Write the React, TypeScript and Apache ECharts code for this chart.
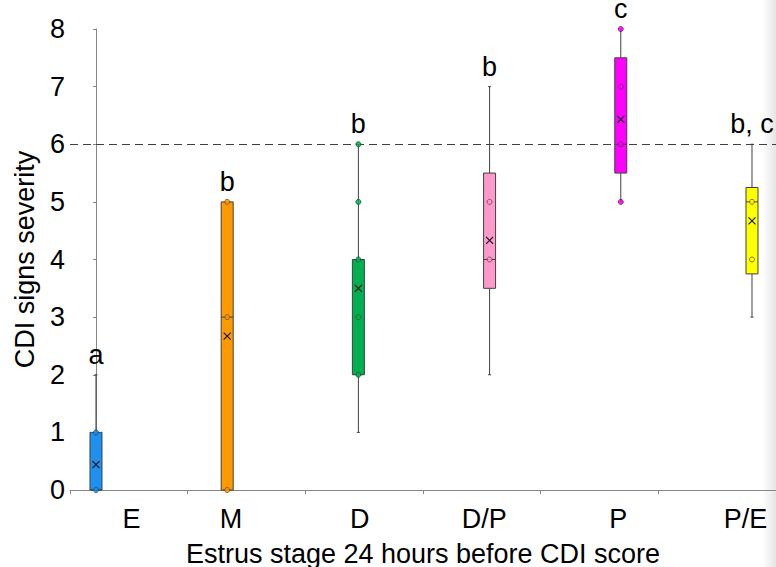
import React, { useEffect, useRef } from "react";
import * as echarts from "echarts";

// ---- data ----
const categories = ["E", "M", "D", "D/P", "P", "P/E"];
const minValues = [0, 0, 1, 2, 5, 3];
const q1Values = [0, 0, 2, 3.5, 5.5, 3.75];
const medianValues: (number | null)[] = [0, 3, null, 4, 6, 5];
const q3Values = [1, 5, 4, 5.5, 7.5, 5.25];
const maxValues = [2, 5, 6, 7, 8, 6];
const meanValues = [0.44, 2.67, 3.5, 4.33, 6.43, 4.67];
const pointValues = [
  [0, 1],
  [0, 3, 5],
  [2, 3, 4, 5, 6],
  [4, 5],
  [5, 6, 7, 8],
  [4, 5],
];
const groupLetters = ["a", "b", "b", "b", "c", "b, c"];
const thresholdValue = 6;
const yMin = 0;
const yMax = 8;
const yInterval = 1;

// ---- styling / layout ----
const boxColors = ["#1E90F0", "#FF9900", "#00B050", "#FF99CC", "#FF00FF", "#FFFF00"];
const dotStroke = ["#0A4F8A", "#7A4A00", "#005A28", "#7A3A5A", "#7A007A", "#5A5A00"];
const labelPositions = [0.27, 1.03, 2.01, 2.96, 3.98, 4.95];
const FONT = "'Liberation Sans', Arial, Helvetica, sans-serif";
const FS = 27;
const LINE = "#404040";

export default function App() {
  const ref = useRef<HTMLDivElement>(null);

  useEffect(() => {
    if (!ref.current) return;
    const chart = echarts.init(ref.current, undefined, { renderer: "svg" });

    const boxData = categories.map((_, i) => [i, minValues[i], maxValues[i]]);
    const dotData: any[] = [];
    pointValues.forEach((vals, i) =>
      vals.forEach((v) =>
        dotData.push({
          value: [i, v],
          itemStyle: { color: boxColors[i], borderColor: dotStroke[i], borderWidth: 1 },
        })
      )
    );

    const option: any = {
      animation: false,
      backgroundColor: "#ffffff",
      textStyle: { fontFamily: FONT },
      grid: { left: 70, right: 0, top: 29, bottom: 77, containLabel: false, outerBoundsMode: "none" },
      xAxis: [
        {
          type: "category",
          data: categories,
          boundaryGap: true,
          axisLine: { show: true, lineStyle: { color: "#868686", width: 1 } },
          axisTick: { show: true, length: 4, lineStyle: { color: "#868686" } },
          axisLabel: { show: false },
          splitLine: { show: false },
        },
        {
          type: "value",
          min: -0.198,
          max: 5.183,
          position: "bottom",
          axisLine: { show: false },
          axisTick: { show: false },
          splitLine: { show: false },
          axisLabel: {
            customValues: labelPositions,
            formatter: (v: number) => categories[Math.round(v)] ?? "",
            fontSize: FS,
            color: "#000",
            fontFamily: FONT,
            margin: 15,
          },
          name: "Estrus stage 24 hours before CDI score",
          nameLocation: "middle",
          nameGap: 50,
          nameTextStyle: { fontSize: FS, color: "#000", fontFamily: FONT },
        },
      ],
      yAxis: {
        type: "value",
        min: yMin,
        max: yMax,
        interval: yInterval,
        axisLine: { show: true, lineStyle: { color: "#868686", width: 1 } },
        axisTick: { show: true, length: 3, lineStyle: { color: "#868686" } },
        splitLine: { show: false },
        axisLabel: { fontSize: FS, color: "#000", fontFamily: FONT, margin: 5 },
        name: "CDI signs severity",
        nameLocation: "middle",
        nameGap: 32,
        nameTextStyle: { fontSize: FS, color: "#000", fontFamily: FONT },
      },
      series: [
        {
          type: "custom",
          xAxisIndex: 1,
          yAxisIndex: 0,
          data: boxData,
          encode: { x: 0, y: [1, 2] },
          z: 3,
          clip: false,
          renderItem: (params: any, api: any) => {
            const i = params.dataIndex;
            const x = api.coord([i, 0])[0];
            const y = (v: number) => api.coord([i, v])[1];
            const half = 6;
            const stroke = { stroke: LINE, lineWidth: 1 };
            const children: any[] = [];
            if (maxValues[i] > q3Values[i]) {
              children.push({ type: "line", shape: { x1: x, y1: y(q3Values[i]), x2: x, y2: y(maxValues[i]) }, style: stroke });
              children.push({ type: "line", shape: { x1: x - 1.5, y1: y(maxValues[i]), x2: x + 1.5, y2: y(maxValues[i]) }, style: stroke });
            }
            if (minValues[i] < q1Values[i]) {
              children.push({ type: "line", shape: { x1: x, y1: y(q1Values[i]), x2: x, y2: y(minValues[i]) }, style: stroke });
              children.push({ type: "line", shape: { x1: x - 1.5, y1: y(minValues[i]), x2: x + 1.5, y2: y(minValues[i]) }, style: stroke });
            }
            children.push({
              type: "rect",
              shape: { x: x - half, y: y(q3Values[i]), width: half * 2, height: y(q1Values[i]) - y(q3Values[i]) },
              style: { fill: boxColors[i], stroke: LINE, lineWidth: 1 },
            });
            const med = medianValues[i];
            if (med !== null) {
              children.push({ type: "line", shape: { x1: x - half, y1: y(med), x2: x + half, y2: y(med) }, style: stroke });
            }
            const my = y(meanValues[i]);
            const m = 3.5;
            children.push({ type: "line", shape: { x1: x - m, y1: my - m, x2: x + m, y2: my + m }, style: { stroke: "#111", lineWidth: 1.1 } });
            children.push({ type: "line", shape: { x1: x - m, y1: my + m, x2: x + m, y2: my - m }, style: { stroke: "#111", lineWidth: 1.1 } });
            children.push({
              type: "text",
              x: x,
              y: y(maxValues[i]) - 20,
              style: {
                text: groupLetters[i],
                fill: "#000",
                font: `${FS}px ${FONT}`,
                align: "center",
                verticalAlign: "middle",
              },
            });
            return { type: "group", children };
          },
          markLine: {
            silent: true,
            symbol: ["none", "none"],
            label: { show: false },
            lineStyle: { type: [8, 5], color: LINE, width: 1.2 },
            data: [{ yAxis: thresholdValue }],
          },
        },
        {
          type: "scatter",
          xAxisIndex: 1,
          yAxisIndex: 0,
          symbol: "circle",
          symbolSize: 5,
          data: dotData,
          z: 5,
          clip: false,
        },
      ],
      graphic: [
        {
          type: "rect",
          right: 0,
          top: 0,
          shape: { width: 14, height: 567 },
          silent: true,
          style: {
            fill: new echarts.graphic.LinearGradient(0, 0, 1, 0, [
              { offset: 0, color: "rgba(0,0,0,0)" },
              { offset: 1, color: "rgba(0,0,0,0.10)" },
            ]),
          },
        },
      ],
    };

    chart.setOption(option);
    return () => chart.dispose();
  }, []);

  return (
    <div
      ref={ref}
      style={{ position: "fixed", left: 0, top: 0, width: 776, height: 567, background: "#fff" }}
    />
  );
}
